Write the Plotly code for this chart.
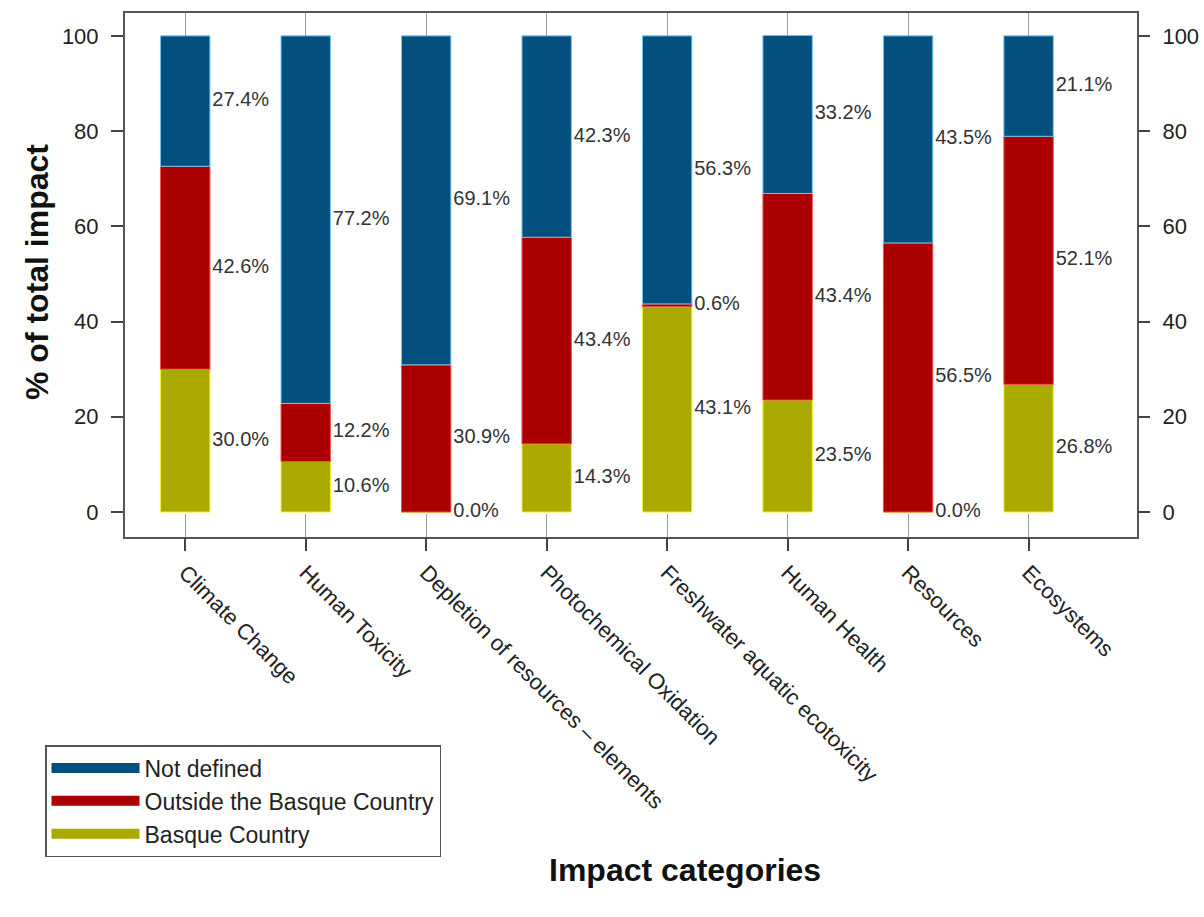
import plotly.graph_objects as go

categories = ["Climate Change", "Human Toxicity", "Depletion of resources \u2013 elements",
              "Photochemical Oxidation", "Freshwater aquatic ecotoxicity",
              "Human Health", "Resources", "Ecosystems"]
basque = [30.0, 10.6, 0.0, 14.3, 43.1, 23.5, 0.0, 26.8]
outside = [42.6, 12.2, 30.9, 43.4, 0.6, 43.4, 56.5, 52.1]
not_defined = [27.4, 77.2, 69.1, 42.3, 56.3, 33.2, 43.5, 21.1]
yticks = [0, 20, 40, 60, 80, 100]

series = [
    ("Basque Country", basque, "#A9A900", "#F2F230"),
    ("Outside the Basque Country", outside, "#AA0000", "#F05050"),
    ("Not defined", not_defined, "#03507E", "#6EC8F0"),
]

FONT = "Liberation Sans, Arial, sans-serif"
xs = list(range(len(categories)))

fig = go.Figure()
base = [0.0] * len(categories)
for name, vals, col, edge in series:
    fig.add_trace(go.Bar(x=xs, y=vals, base=base, width=0.41, name=name,
                         marker=dict(color=col, line=dict(color=edge, width=1)),
                         showlegend=False))
    mids = [b + v / 2 for b, v in zip(base, vals)]
    fig.add_trace(go.Scatter(x=[x + 0.225 for x in xs], y=mids, mode="text",
                             text=[f"{v:.1f}%" for v in vals],
                             textposition="middle right",
                             textfont=dict(family=FONT, size=20, color="#333333"),
                             showlegend=False, hoverinfo="skip"))
    base = [b + v for b, v in zip(base, vals)]

# legend entries (top to bottom)
for name, vals, col, edge in reversed(series):
    fig.add_trace(go.Scatter(x=[None], y=[None], mode="lines", name=name,
                             line=dict(color=col, width=16)))

# invisible trace for secondary axes
fig.add_trace(go.Scatter(x=xs, y=[None] * len(xs), xaxis="x2", yaxis="y2",
                         mode="markers", showlegend=False, hoverinfo="skip"))

xr = [-0.5, 7.9]
yr = [-5.25, 104.8]
fig.update_layout(
    width=1204, height=917,
    margin=dict(l=125, r=67, t=13, b=380, autoexpand=False),
    paper_bgcolor="white", plot_bgcolor="white",
    font=dict(family=FONT, color="#222222"),
    barmode="overlay",
    xaxis=dict(range=xr, tickvals=xs, ticks="inside", ticklen=23, tickcolor="#9a9a9a",
               tickwidth=1, showticklabels=False, showline=True, linecolor="#555555",
               linewidth=2, mirror="ticks", showgrid=False, zeroline=False),
    xaxis2=dict(overlaying="x", side="bottom", range=xr, tickvals=xs, ticktext=categories,
                ticks="outside", ticklen=13, tickcolor="#444444", tickwidth=1.5,
                tickangle=45, tickfont=dict(family=FONT, size=22, color="#222222"),
                showline=False, showgrid=False, zeroline=False),
    yaxis=dict(range=yr, tickvals=yticks, ticks="outside", ticklen=12, tickcolor="#444444",
               tickwidth=1.5, tickfont=dict(family=FONT, size=22, color="#222222"),
               ticklabelstandoff=8,
               showline=True, linecolor="#555555", linewidth=2, mirror=True,
               showgrid=False, zeroline=False),
    yaxis2=dict(overlaying="y", side="right", range=yr, tickvals=yticks, ticks="outside",
                ticklen=12, tickcolor="#444444", tickwidth=1.5,
                tickfont=dict(family=FONT, size=22, color="#222222"),
                ticklabelstandoff=8,
                showline=False, showgrid=False, zeroline=False),
    legend=dict(xref="container", yref="container", x=45 / 1204, y=1 - 745 / 917,
                xanchor="left", yanchor="top", bordercolor="#555555", borderwidth=1.5,
                bgcolor="white", itemwidth=88,
                font=dict(family=FONT, size=23, color="#222222")),
    annotations=[
        dict(text="<b>Impact categories</b>", xref="paper", yref="paper",
             x=(685 - 125) / 1012, y=(537 - 870) / 524, xanchor="center", yanchor="middle",
             showarrow=False, font=dict(family=FONT, size=32, color="#111111")),
        dict(text="<b>% of total impact</b>", xref="paper", yref="paper",
             x=(37 - 125) / 1012, y=(537 - 272) / 524, xanchor="center", yanchor="middle",
             textangle=-90, showarrow=False,
             font=dict(family=FONT, size=32, color="#111111")),
    ],
)

fig.write_html("out.html", config={"displayModeBar": False},
               post_script="document.body.style.margin='0';")
